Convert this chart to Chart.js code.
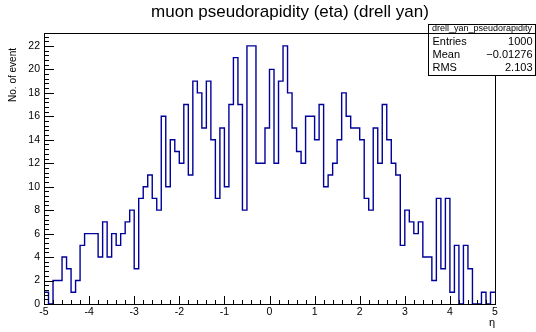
<!DOCTYPE html>
<html>
<head>
<meta charset="utf-8">
<script src="https://cdn.jsdelivr.net/npm/chart.js@4.4.0/dist/chart.umd.min.js"></script>
<style>
  html, body { margin: 0; padding: 0; background: #fff; }
  #wrap { width: 536px; height: 332px; }
</style>
</head>
<body>
<div id="wrap"><canvas id="etaChart" width="536" height="332"></canvas></div>
<script>
// eta histogram, 100 bins from -5 to 5
const etaLow = -5;
const etaHigh = 5;
const binWidth = 0.1;
const counts = [
  1, 0, 2, 2, 4, 3, 1, 2, 5, 6,
  6, 6, 4, 7, 4, 6, 5, 6, 7, 8,
  3, 9, 10, 11, 9, 8, 16, 10, 14, 13,
  12, 17, 11, 19, 18, 15, 19, 14, 9, 15,
  10, 17, 21, 17, 8, 22, 22, 12, 12, 15,
  20, 12, 19, 22, 18, 15, 13, 12, 16, 16,
  14, 17, 10, 11, 12, 14, 18, 16, 15, 15,
  14, 9, 8, 15, 12, 17, 14, 12, 11, 5,
  8, 7, 6, 7, 4, 4, 2, 9, 3, 9,
  1, 5, 0, 5, 3, 0, 0, 1, 0, 1
];
const xTicks = [-5, -4, -3, -2, -1, 0, 1, 2, 3, 4, 5];
const yTicks = [0, 2, 4, 6, 8, 10, 12, 14, 16, 18, 20, 22];
const yMax = 23.1;
const statsName = 'drell_yan_pseudorapidity';
const statsLabels = ['Entries', 'Mean', 'RMS'];
const statsValues = ['1000', '\u22120.01276', '2.103'];

// left edge of every bin, plus the closing edge
const steps = counts.map((c, i) => ({ x: etaLow + i * binWidth, y: c }));
steps.push({ x: etaHigh, y: counts[counts.length - 1] });

const FONT = '"Liberation Sans", Arial, Helvetica, sans-serif';

// frame, inward ticks, titles and the stats box, ROOT style
const rootPad = {
  id: 'rootPad',
  afterDraw(chart) {
    const { ctx, chartArea: a, scales: { x, y } } = chart;
    ctx.save();
    ctx.strokeStyle = '#000';
    ctx.lineWidth = 1;
    ctx.strokeRect(a.left + 0.5, a.top + 0.5, a.right - a.left, a.bottom - a.top);

    ctx.beginPath();
    for (let k = 0; k <= 50; k++) {
      const v = etaLow + k * 0.2;
      const px = Math.round(x.getPixelForValue(v)) + 0.5;
      const len = k % 5 === 0 ? 8 : 4;
      ctx.moveTo(px, a.bottom);
      ctx.lineTo(px, a.bottom - len);
    }
    for (let k = 0; k * 0.4 <= yMax; k++) {
      const py = Math.round(y.getPixelForValue(k * 0.4)) + 0.5;
      const len = k % 5 === 0 ? 10 : 5;
      ctx.moveTo(a.left, py);
      ctx.lineTo(a.left + len, py);
    }
    ctx.stroke();

    ctx.fillStyle = '#000';
    ctx.font = '17px ' + FONT;
    ctx.textAlign = 'center';
    ctx.textBaseline = 'middle';
    ctx.fillText('muon pseudorapidity (eta) (drell yan)', 290, 12);

    ctx.font = '11px ' + FONT;
    ctx.textAlign = 'right';
    ctx.fillText('\u03b7', 495, 323);

    ctx.save();
    ctx.translate(13, 48);
    ctx.rotate(-Math.PI / 2);
    ctx.font = '10px ' + FONT;
    ctx.textAlign = 'right';
    ctx.fillText('No. of event', 0, 0);
    ctx.restore();

    // stats box
    const bx = 428.5, by = 24.5, bw = 107, bh = 51;
    ctx.fillStyle = '#fff';
    ctx.fillRect(bx, by, bw, bh);
    ctx.strokeRect(bx, by, bw, bh);
    ctx.beginPath();
    ctx.moveTo(bx, by + 9);
    ctx.lineTo(bx + bw, by + 9);
    ctx.stroke();
    ctx.fillStyle = '#000';
    ctx.font = '9px ' + FONT;
    ctx.textAlign = 'center';
    ctx.fillText(statsName, bx + bw / 2, by + 4.5);
    ctx.font = '11px ' + FONT;
    statsLabels.forEach((lab, i) => {
      const ty = 42 + i * 13;
      ctx.textAlign = 'left';
      ctx.fillText(lab, bx + 4, ty);
      ctx.textAlign = 'right';
      ctx.fillText(statsValues[i], bx + bw - 3, ty);
    });
    ctx.restore();
  }
};

new Chart(document.getElementById('etaChart'), {
  type: 'line',
  data: {
    datasets: [{
      data: steps,
      stepped: true,
      borderColor: '#00009a',
      borderWidth: 1.4,
      pointRadius: 0,
      fill: false
    }]
  },
  options: {
    responsive: false,
    animation: false,
    layout: { padding: { top: 33, right: 41, left: 0, bottom: 0 } },
    plugins: {
      legend: { display: false },
      tooltip: { enabled: false },
      title: { display: false }
    },
    scales: {
      x: {
        type: 'linear',
        min: etaLow,
        max: etaHigh,
        grid: { display: false, drawTicks: false },
        border: { display: false },
        afterBuildTicks: s => { s.ticks = xTicks.map(v => ({ value: v })); },
        afterFit: s => { s.height = 28; },
        ticks: {
          color: '#000',
          padding: 2,
          maxRotation: 0,
          autoSkip: false,
          font: { family: FONT, size: 10.5 }
        }
      },
      y: {
        min: 0,
        max: yMax,
        grid: { display: false, drawTicks: false },
        border: { display: false },
        afterBuildTicks: s => { s.ticks = yTicks.map(v => ({ value: v })); },
        afterFit: s => { s.width = 44; },
        ticks: {
          color: '#000',
          padding: 4,
          autoSkip: false,
          font: { family: FONT, size: 10.5 }
        }
      }
    }
  },
  plugins: [rootPad]
});
</script>
</body>
</html>
